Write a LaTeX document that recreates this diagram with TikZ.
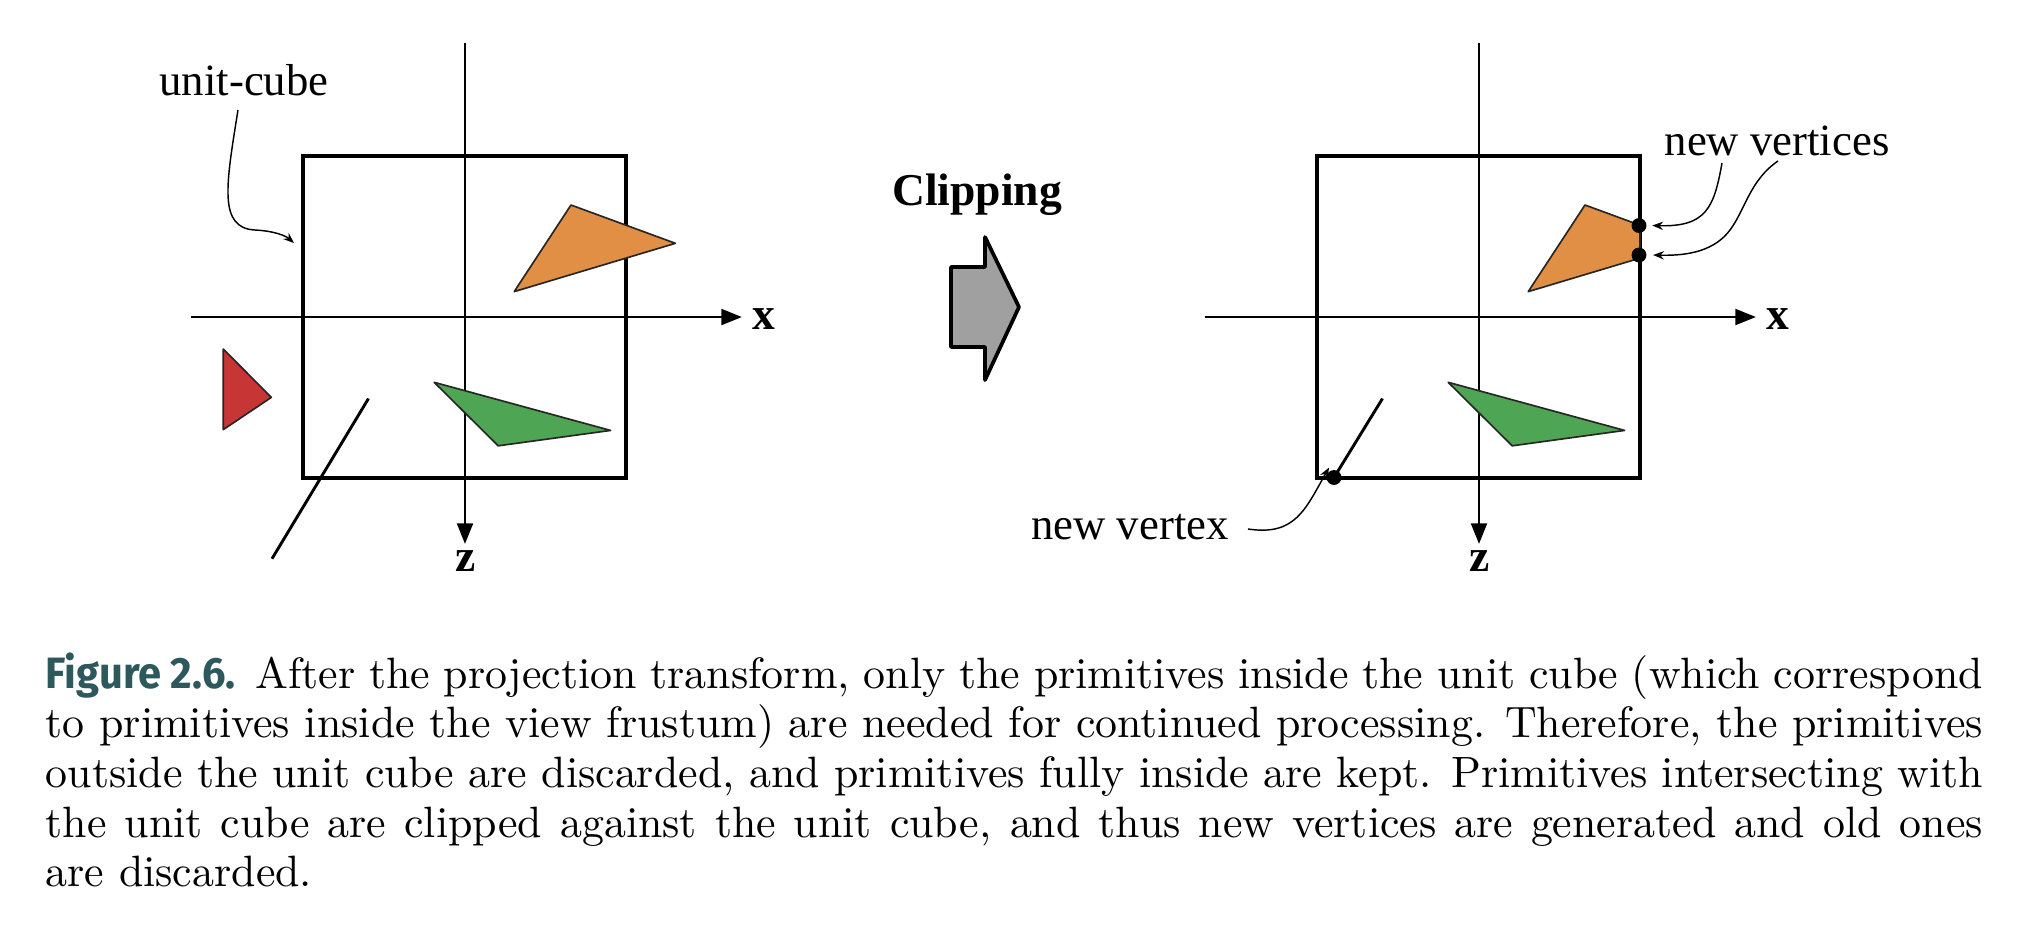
\documentclass[tikz,border=0pt]{standalone}
\usepackage{fontspec}
\usetikzlibrary{arrows.meta}
\newfontfamily\tnr{Liberation Serif}
\newfontfamily\figfont{Fira Sans}[FakeStretch=0.95]
\definecolor{orangeT}{RGB}{224,143,69}
\definecolor{redT}{RGB}{199,53,53}
\definecolor{greenT}{RGB}{78,165,83}
\definecolor{grayA}{RGB}{160,160,160}
\definecolor{figcol}{RGB}{45,88,92}
\begin{document}
\begin{tikzpicture}[x=0.2415pt,y=-0.2415pt,
  axis/.style={line width=0.7pt,-{Triangle[length=5pt,width=3.8pt]}},
  cube/.style={line width=1.15pt},
  tri/.style={draw=black!85,line width=0.4pt,line join=round},
  seg/.style={line width=0.7pt},
  lbl/.style={font=\tnr\fontsize{10.8}{13}\selectfont,inner sep=0},
  axl/.style={font=\tnr\bfseries\fontsize{11}{13}\selectfont,inner sep=0},
  pointer/.style={line width=0.35pt,-{Stealth[length=2.6pt,width=2pt]}},
  vdot/.style={circle,fill=black,inner sep=0,minimum size=3.6pt}]
\useasboundingbox (0,0) rectangle (2034,944);

% ---------- left diagram ----------
\coordinate (Lzt) at (465,43);
\coordinate (Lzb) at (465,544);
\coordinate (Lxl) at (191,317);
\coordinate (Lxr) at (742,317);
\draw[axis] (Lzt) -- (Lzb);
\draw[axis] (Lxl) -- (Lxr);
\node[axl,anchor=base] (Lx) at (764,329) {x};
\node[axl,anchor=base] (Lz) at (466,571) {z};
\draw[cube] (303,156) rectangle (626,478);
\draw[tri,fill=orangeT] (571,205) -- (675.4,243.3) -- (514.2,291.6) -- cycle;
\draw[tri,fill=redT] (223.3,349) -- (271.3,397.4) -- (223.3,429.6) -- cycle;
\draw[tri,fill=greenT] (434.2,382.3) -- (610.6,430.4) -- (498.2,445.8) -- cycle;
\coordinate (Ls1) at (368.5,398.5);
\coordinate (Ls2) at (272,558.7);
\draw[seg] (Ls1) -- (Ls2);
\node[lbl,anchor=base] (uc) at (244,95) {unit-cube};
\coordinate (ucS) at (238,110);
\coordinate (ucE) at (294,243);
\draw[pointer] (ucS) .. controls (226,185) and (218,228) .. (255,230)
  .. controls (275,231) and (286,236) .. (ucE);

% ---------- middle ----------
\node[font=\tnr\bfseries\fontsize{11}{13}\selectfont,inner sep=0,anchor=base] (clip) at (977,205) {Clipping};
\draw[fill=grayA,line width=0.9pt,line join=round] (951,267) -- (985,267) -- (985,237) -- (1019,307)
  -- (985,380) -- (985,347) -- (951,347) -- cycle;

% ---------- right diagram ----------
\coordinate (Rzt) at (1479,43);
\coordinate (Rzb) at (1479,544);
\coordinate (Rxl) at (1205,317);
\coordinate (Rxr) at (1756,317);
\draw[axis] (Rzt) -- (Rzb);
\draw[axis] (Rxl) -- (Rxr);
\node[axl,anchor=base] (Rx) at (1778,329) {x};
\node[axl,anchor=base] (Rz) at (1480,571) {z};
\draw[cube] (1317,156) rectangle (1640,478);
\draw[tri,fill=orangeT] (1585,205) -- (1640,225.2) -- (1640,258.1) -- (1528.2,291.6) -- cycle;
\draw[tri,fill=greenT] (1448.2,382.3) -- (1624.6,430.4) -- (1512.2,445.8) -- cycle;
\node[vdot] (v1) at (1639,225.5) {};
\node[vdot] (v2) at (1639,255) {};
\coordinate (Rs1) at (1382.5,398.5);
\node[vdot] (v3) at (1334,477.5) {};
\draw[seg] (Rs1) -- (v3.center);
\node[lbl,anchor=base] (nvs) at (1777,155) {new vertices};
\node[lbl,anchor=base] (nv) at (1130,539) {new vertex};
\coordinate (a1s) at (1722,163);
\coordinate (a2s) at (1778,161);
\coordinate (a3s) at (1248,529);
\draw[pointer] (a1s) .. controls (1714,208) and (1706,227) .. ([xshift=3.2pt]v1.center);
\draw[pointer] (a2s) .. controls (1750,180) and (1745,210) .. (1730,230)
  .. controls (1715,250) and (1690,256) .. ([xshift=3.4pt]v2.center);
\draw[pointer] (a3s) .. controls (1295,536) and (1305,510) .. ([xshift=-1.2pt,yshift=2.4pt]v3.center);

% ---------- caption ----------
\node[anchor=base west,inner sep=0,text width=467.8pt,align=justify,
  font=\fontsize{10.6}{12}\selectfont] (cap) at (45,688)
  {\hyphenpenalty=10000{\figfont\bfseries\color{figcol}Figure 2.6.}\hspace{0.45em}After the projection transform, only the primitives inside the unit cube (which correspond to primitives inside the view frustum) are needed for continued processing. Therefore, the primitives outside the unit cube are discarded, and primitives fully inside are kept. Primitives intersecting with the unit cube are clipped against the unit cube, and thus new vertices are generated and old ones\linebreak are discarded.};
\end{tikzpicture}
\end{document}
